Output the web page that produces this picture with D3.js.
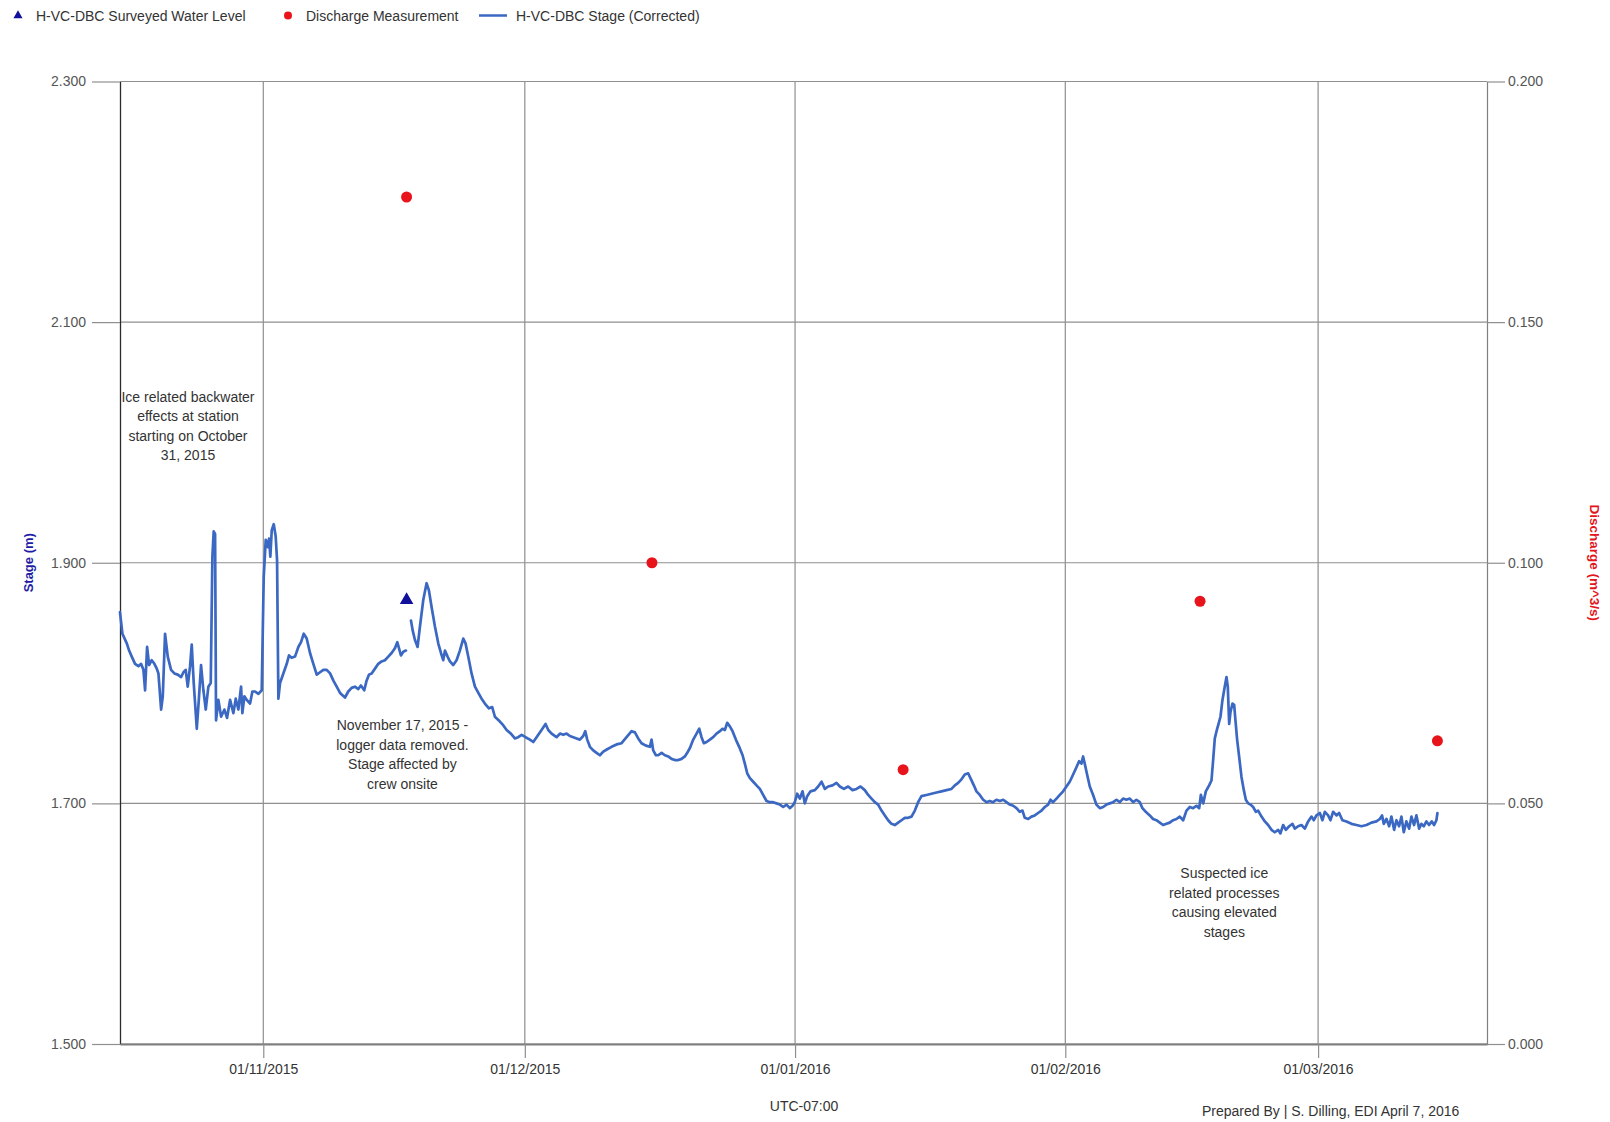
<!DOCTYPE html>
<html>
<head>
<meta charset="utf-8">
<script src="https://cdn.jsdelivr.net/npm/d3@7"></script>
<style>
  html, body { margin: 0; padding: 0; background: #fff; }
  svg { display: block; font-family: "Liberation Sans", Arial, sans-serif; }
</style>
</head>
<body>
<svg id="chart" width="1610" height="1122"></svg>
<script>
// ---- Data -------------------------------------------------------------
// Stage record: [days since 2015-10-15 00:00 (UTC-07), stage in m]; null marks removed logger data.
const seriesStart = Date.UTC(2015, 9, 15);
const stageSeries = [
  [0.56,1.859],[0.84,1.841],[1.34,1.833],[1.61,1.827],[1.91,1.822],[2.29,1.816],[2.68,1.814],[2.98,1.816],
  [3.25,1.811],[3.44,1.794],[3.67,1.830],[3.90,1.815],[4.20,1.819],[4.51,1.816],[4.78,1.812],[4.97,1.808],
  [5.28,1.778],[5.47,1.789],[5.73,1.841],[6.04,1.822],[6.42,1.811],[6.80,1.808],[7.19,1.807],[7.57,1.805],
  [7.84,1.809],[8.10,1.811],[8.33,1.797],[8.60,1.814],[8.79,1.832],[9.02,1.800],[9.37,1.762],[9.63,1.789],
  [9.86,1.815],[10.13,1.794],[10.40,1.778],[10.70,1.797],[10.97,1.800],[11.16,1.905],[11.31,1.926],[11.47,1.924],
  [11.58,1.769],[11.85,1.786],[12.16,1.772],[12.54,1.778],[12.84,1.771],[13.19,1.786],[13.57,1.775],[13.84,1.787],
  [14.14,1.778],[14.45,1.797],[14.60,1.775],[14.83,1.789],[15.10,1.786],[15.48,1.783],[15.75,1.793],[16.06,1.793],
  [16.44,1.791],[16.82,1.794],[17.05,1.888],[17.28,1.919],[17.51,1.913],[17.66,1.920],[17.81,1.905],[17.97,1.927],
  [18.20,1.932],[18.42,1.922],[18.58,1.902],[18.73,1.787],[18.92,1.800],[19.30,1.808],[19.69,1.816],[19.95,1.823],
  [20.26,1.821],[20.64,1.822],[21.02,1.830],[21.33,1.834],[21.64,1.841],[21.98,1.837],[22.36,1.825],[22.74,1.816],
  [23.13,1.807],[23.51,1.809],[23.89,1.811],[24.27,1.811],[24.66,1.808],[25.04,1.802],[25.42,1.797],[25.79,1.792],
  [26.06,1.790],[26.37,1.788],[26.75,1.793],[27.13,1.796],[27.51,1.797],[27.90,1.795],[28.20,1.798],[28.58,1.794],
  [28.85,1.802],[29.12,1.807],[29.43,1.808],[29.81,1.812],[30.19,1.816],[30.57,1.818],[30.95,1.819],[31.34,1.822],
  [31.72,1.825],[32.10,1.829],[32.37,1.834],[32.56,1.829],[32.79,1.823],[33.06,1.826],[33.36,1.827],
  [33.65,null],
  [33.94,1.852],[34.13,1.844],[34.39,1.836],[34.70,1.830],[34.97,1.847],[35.35,1.869],[35.73,1.883],[36.00,1.877],
  [36.31,1.863],[36.69,1.847],[37.07,1.833],[37.38,1.825],[37.64,1.819],[37.84,1.827],[38.14,1.822],[38.41,1.818],
  [38.79,1.815],[39.17,1.819],[39.55,1.827],[39.94,1.837],[40.20,1.833],[40.51,1.822],[40.89,1.808],[41.28,1.797],
  [41.73,1.791],[42.04,1.787],[42.42,1.783],[42.88,1.779],[43.26,1.780],[43.57,1.772],[44.14,1.768],[44.52,1.765],
  [44.91,1.761],[45.40,1.758],[45.86,1.754],[46.24,1.755],[46.63,1.757],[47.09,1.755],[47.58,1.753],[47.97,1.751],
  [48.35,1.755],[48.92,1.761],[49.38,1.766],[49.69,1.761],[50.07,1.758],[50.64,1.755],[51.03,1.758],[51.41,1.757],
  [51.79,1.758],[52.17,1.756],[52.56,1.755],[52.94,1.754],[53.32,1.753],[53.70,1.756],[53.93,1.760],[54.16,1.753],
  [54.47,1.747],[54.85,1.744],[55.23,1.742],[55.61,1.740],[56.00,1.743],[56.45,1.745],[56.95,1.747],[57.53,1.749],
  [58.10,1.750],[58.67,1.755],[59.25,1.760],[59.63,1.759],[60.01,1.754],[60.39,1.750],[60.89,1.748],[61.35,1.747],
  [61.54,1.753],[61.73,1.744],[62.04,1.740],[62.30,1.740],[62.69,1.742],[63.07,1.740],[63.45,1.739],[63.83,1.737],
  [64.21,1.736],[64.60,1.736],[64.98,1.737],[65.36,1.739],[65.63,1.742],[65.94,1.746],[66.32,1.753],[66.70,1.758],
  [67.01,1.762],[67.27,1.755],[67.54,1.750],[67.85,1.751],[68.23,1.753],[68.61,1.755],[68.99,1.758],[69.38,1.760],
  [69.68,1.762],[69.95,1.761],[70.22,1.767],[70.52,1.764],[70.83,1.760],[71.21,1.753],[71.59,1.747],[71.98,1.740],
  [72.24,1.733],[72.51,1.725],[72.82,1.721],[73.20,1.718],[73.58,1.715],[73.96,1.712],[74.34,1.707],[74.73,1.702],
  [75.11,1.701],[75.49,1.701],[75.87,1.700],[76.26,1.699],[76.64,1.697],[77.02,1.699],[77.40,1.696],[77.71,1.698],
  [77.97,1.701],[78.24,1.708],[78.55,1.704],[78.86,1.710],[79.12,1.700],[79.39,1.706],[79.77,1.710],[80.27,1.711],
  [80.65,1.714],[81.04,1.718],[81.42,1.712],[81.80,1.714],[82.30,1.715],[82.75,1.717],[83.14,1.714],[83.60,1.712],
  [84.09,1.714],[84.59,1.711],[85.05,1.712],[85.51,1.714],[86.00,1.711],[86.39,1.707],[86.77,1.704],[87.15,1.701],
  [87.53,1.699],[87.92,1.694],[88.30,1.690],[88.68,1.686],[89.06,1.683],[89.44,1.682],[89.83,1.684],[90.21,1.686],
  [90.59,1.688],[90.97,1.688],[91.36,1.689],[91.74,1.694],[92.12,1.701],[92.50,1.706],[93.08,1.707],[93.65,1.708],
  [94.22,1.709],[94.80,1.710],[95.37,1.711],[95.94,1.712],[96.33,1.715],[96.71,1.717],[97.09,1.720],[97.47,1.724],
  [97.86,1.725],[98.12,1.721],[98.51,1.715],[98.81,1.710],[99.19,1.707],[99.58,1.703],[99.96,1.701],[100.34,1.702],
  [100.72,1.701],[101.10,1.703],[101.49,1.702],[101.87,1.703],[102.25,1.701],[102.63,1.699],[103.02,1.698],[103.40,1.696],
  [103.78,1.693],[104.09,1.694],[104.35,1.688],[104.74,1.687],[105.12,1.689],[105.50,1.690],[105.88,1.692],[106.27,1.694],
  [106.65,1.697],[107.03,1.699],[107.30,1.703],[107.60,1.701],[107.99,1.704],[108.37,1.707],[108.75,1.710],[109.13,1.714],
  [109.51,1.718],[109.90,1.724],[110.28,1.730],[110.58,1.735],[110.85,1.733],[111.04,1.739],[111.23,1.733],[111.50,1.724],
  [111.81,1.714],[112.19,1.707],[112.57,1.699],[112.96,1.696],[113.34,1.697],[113.72,1.699],[114.10,1.700],[114.48,1.701],
  [114.87,1.703],[115.25,1.701],[115.63,1.704],[116.01,1.703],[116.40,1.704],[116.78,1.701],[117.16,1.703],[117.54,1.701],
  [117.85,1.696],[118.23,1.693],[118.69,1.690],[119.07,1.687],[119.45,1.686],[119.84,1.684],[120.22,1.682],[120.60,1.683],
  [120.98,1.684],[121.37,1.686],[121.75,1.687],[122.13,1.689],[122.52,1.686],[122.90,1.694],[123.29,1.697],[123.67,1.696],
  [124.05,1.698],[124.36,1.696],[124.55,1.707],[124.82,1.700],[125.12,1.710],[125.50,1.715],[125.77,1.719],[125.96,1.736],
  [126.15,1.754],[126.42,1.762],[126.65,1.768],[126.80,1.772],[127.03,1.786],[127.22,1.794],[127.49,1.805],[127.64,1.797],
  [127.80,1.766],[127.95,1.776],[128.18,1.783],[128.37,1.782],[128.52,1.769],[128.71,1.753],[128.94,1.739],[129.21,1.722],
  [129.48,1.711],[129.71,1.703],[129.98,1.700],[130.24,1.699],[130.55,1.697],[130.86,1.693],[131.12,1.694],[131.51,1.689],
  [131.89,1.685],[132.27,1.682],[132.65,1.678],[133.03,1.676],[133.42,1.678],[133.68,1.675],[133.99,1.682],[134.30,1.678],
  [134.68,1.681],[135.06,1.683],[135.33,1.679],[135.71,1.681],[136.09,1.682],[136.48,1.679],[136.86,1.685],[137.24,1.689],
  [137.51,1.686],[137.81,1.690],[138.20,1.692],[138.50,1.686],[138.77,1.693],[139.15,1.690],[139.42,1.686],[139.72,1.693],
  [140.11,1.690],[140.41,1.692],[140.79,1.686],[141.25,1.685],[141.83,1.683],[142.40,1.682],[142.97,1.681],[143.55,1.682],
  [144.12,1.684],[144.69,1.685],[145.08,1.687],[145.34,1.690],[145.53,1.683],[145.84,1.687],[146.15,1.681],[146.41,1.689],
  [146.72,1.678],[146.99,1.686],[147.29,1.681],[147.56,1.689],[147.83,1.676],[148.13,1.685],[148.44,1.679],[148.71,1.689],
  [149.01,1.682],[149.28,1.690],[149.59,1.679],[149.85,1.683],[150.12,1.681],[150.43,1.685],[150.73,1.682],[151.04,1.685],
  [151.31,1.682],[151.57,1.686],[151.69,1.692]
];

// Surveyed water level (m)
const surveyTimes = ["2015-11-17T10:30"];
const surveyLevels = [1.869];

// Discharge measurements (m^3/s)
const dischargeTimes = ["2015-11-17T10:30", "2015-12-15T14:00", "2016-01-13T09:30", "2016-02-16T11:00", "2016-03-14T16:30"];
const dischargeValues = [0.176, 0.100, 0.057, 0.092, 0.063];

// Axes
const timeDomain = ["2015-10-15T13:30", "2016-03-20T09:00"];
const monthTicks = ["2015-11-01", "2015-12-01", "2016-01-01", "2016-02-01", "2016-03-01"];
const stageTicks = [1.5, 1.7, 1.9, 2.1, 2.3];
const dischargeTicks = [0, 0.05, 0.10, 0.15, 0.20];

// Notes placed in data space (time, stage of first line)
const notes = [
  { time: "2015-10-23T08:40", stage: 2.034, lines: ["Ice related backwater", "effects at station", "starting on October", "31, 2015"] },
  { time: "2015-11-16T23:00", stage: 1.761, lines: ["November 17, 2015 -", "logger data removed.", "Stage affected by", "crew onsite"] },
  { time: "2016-02-19T05:45", stage: 1.638, lines: ["Suspected ice", "related processes", "causing elevated", "stages"] }
];

// ---- Layout -----------------------------------------------------------
const plot = { left: 120, right: 1487, top: 81.5, bottom: 1044 };
const C = {
  stage: "#3b68c2",
  survey: "#10109c",
  discharge: "#e8141c",
  grid: "#8f8f8f",
  text: "#333333",
  tick: "#555555"
};

const parseT = s => new Date(s + (s.length === 10 ? "T00:00Z" : "Z"));
const svg = d3.select("#chart");

const x = d3.scaleUtc().domain(timeDomain.map(parseT)).range([plot.left, plot.right]);
const yS = d3.scaleLinear().domain([1.5, 2.3]).range([plot.bottom, plot.top]);
const yQ = d3.scaleLinear().domain([0, 0.2]).range([plot.bottom, plot.top]);

// ---- Grid -------------------------------------------------------------
const grid = svg.append("g");
grid.selectAll("line.h").data(stageTicks).join("line")
  .attr("x1", plot.left).attr("x2", plot.right)
  .attr("y1", d => yS(d)).attr("y2", d => yS(d))
  .attr("stroke", C.grid).attr("stroke-width", 1.2);
grid.selectAll("line.v").data(monthTicks.map(parseT)).join("line")
  .attr("x1", d => x(d)).attr("x2", d => x(d))
  .attr("y1", plot.top).attr("y2", plot.bottom)
  .attr("stroke", C.grid).attr("stroke-width", 1.2);

// ---- Axes -------------------------------------------------------------
const styleAxis = (g, color, size, domainColor, domainWidth) => {
  g.selectAll("text").attr("fill", color).style("font-size", size + "px")
    .style("font-family", '"Liberation Sans", Arial, sans-serif');
  g.selectAll(".tick line").attr("stroke", C.grid).attr("stroke-width", 1.2);
  g.select(".domain").attr("stroke", domainColor).attr("stroke-width", domainWidth);
};

const axL = svg.append("g").attr("transform", `translate(${plot.left},0)`)
  .call(d3.axisLeft(yS).tickValues(stageTicks).tickFormat(d3.format(".3f")).tickSize(28).tickPadding(6).tickSizeOuter(0));
styleAxis(axL, C.tick, 14, "#2b2b2b", 1.3);

const axR = svg.append("g").attr("transform", `translate(${plot.right},0)`)
  .call(d3.axisRight(yQ).tickValues(dischargeTicks).tickFormat(d3.format(".3f")).tickSize(18).tickPadding(3).tickSizeOuter(0));
styleAxis(axR, C.tick, 14, "#7f7f7f", 1.2);

const axB = svg.append("g").attr("transform", `translate(0,${plot.bottom})`)
  .call(d3.axisBottom(x).tickValues(monthTicks.map(parseT)).tickFormat(d3.utcFormat("%d/%m/%Y")).tickSize(14).tickPadding(6).tickSizeOuter(0));
styleAxis(axB, C.text, 14, "#7f7f7f", 2.2);

// ---- Stage line --------------------------------------------------------
const dayMs = 86400000;
const line = d3.line()
  .defined(d => d[1] !== null)
  .x(d => x(new Date(seriesStart + d[0] * dayMs)))
  .y(d => yS(d[1]));
svg.append("path").datum(stageSeries)
  .attr("d", line).attr("fill", "none")
  .attr("stroke", C.stage).attr("stroke-width", 2.7)
  .attr("stroke-linejoin", "round").attr("stroke-linecap", "round");

// ---- Surveyed water level ---------------------------------------------
const tri = d3.symbol().type(d3.symbolTriangle);
svg.append("g").selectAll("path").data(surveyTimes.map((t, i) => [parseT(t), surveyLevels[i]])).join("path")
  .attr("d", tri.size(80))
  .attr("transform", d => `translate(${x(d[0])},${yS(d[1])})`)
  .attr("fill", C.survey);

// ---- Discharge measurements -------------------------------------------
svg.append("g").selectAll("circle").data(dischargeTimes.map((t, i) => [parseT(t), dischargeValues[i]])).join("circle")
  .attr("cx", d => x(d[0])).attr("cy", d => yQ(d[1])).attr("r", 5.5)
  .attr("fill", C.discharge);

// ---- Notes ------------------------------------------------------------
notes.forEach(n => {
  const t = svg.append("text")
    .attr("x", x(parseT(n.time))).attr("y", yS(n.stage))
    .attr("text-anchor", "middle").attr("fill", C.text).style("font-size", "14px");
  n.lines.forEach((s, i) => t.append("tspan").attr("x", x(parseT(n.time))).attr("dy", i ? 19.6 : 0).text(s));
});

// ---- Axis titles --------------------------------------------------------
svg.append("text")
  .attr("transform", `translate(33,${(plot.top + plot.bottom) / 2}) rotate(-90)`)
  .attr("text-anchor", "middle").attr("fill", "#1c1ca6")
  .style("font-size", "13px").style("font-weight", "bold").text("Stage (m)");
svg.append("text")
  .attr("transform", `translate(1590,${(plot.top + plot.bottom) / 2}) rotate(90)`)
  .attr("text-anchor", "middle").attr("fill", "#e3141c")
  .style("font-size", "13.5px").style("font-weight", "bold").text("Discharge (m^3/s)");

svg.append("text").attr("x", 804).attr("y", 1111).attr("text-anchor", "middle")
  .attr("fill", C.text).style("font-size", "14px").text("UTC-07:00");
svg.append("text").attr("x", 1202).attr("y", 1116)
  .attr("fill", C.text).style("font-size", "14px").text("Prepared By | S. Dilling, EDI April 7, 2016");

// ---- Legend -------------------------------------------------------------
const legend = svg.append("g").attr("transform", "translate(0,15.5)");
legend.append("path").attr("d", tri.size(36)).attr("transform", "translate(18,0)").attr("fill", C.survey);
legend.append("text").attr("x", 36).attr("y", 5).attr("fill", C.text).style("font-size", "14px").text("H-VC-DBC Surveyed Water Level");
legend.append("circle").attr("cx", 288).attr("cy", 0).attr("r", 4).attr("fill", C.discharge);
legend.append("text").attr("x", 306).attr("y", 5).attr("fill", C.text).style("font-size", "14px").text("Discharge Measurement");
legend.append("line").attr("x1", 479).attr("x2", 507).attr("y1", 0).attr("y2", 0).attr("stroke", C.stage).attr("stroke-width", 2.5);
legend.append("text").attr("x", 516).attr("y", 5).attr("fill", C.text).style("font-size", "14px").text("H-VC-DBC Stage (Corrected)");
</script>
</body>
</html>
